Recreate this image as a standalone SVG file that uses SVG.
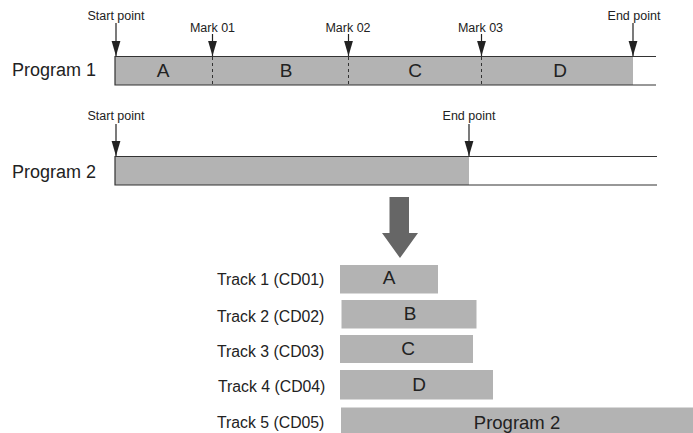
<svg xmlns="http://www.w3.org/2000/svg" width="693" height="433" viewBox="0 0 693 433">
<style>
text{font-family:"Liberation Sans",Arial,sans-serif;fill:#222}
.s{font-size:12.5px;text-anchor:middle}
.lbl{font-size:18px}
.seg{font-size:19px;text-anchor:middle}
.trk{font-size:15.8px}
.bar{fill:#b3b3b3}
.edge{stroke:#333;stroke-width:1.2;fill:none}
.dash{stroke:#333;stroke-width:1;stroke-dasharray:3,3}
.ptr{stroke:#222;stroke-width:1.2;fill:none;marker-end:url(#ah)}
</style>
<defs>
<marker id="ah" markerUnits="userSpaceOnUse" markerWidth="16" markerHeight="10" refX="15" refY="5" orient="auto" viewBox="0 0 16 10">
<path d="M0,0.6 L15,5 L0,9.4 Z" fill="#222"/>
</marker>
</defs>
<g id="program1">
<text class="lbl" x="12" y="76">Program 1</text>
<rect class="bar" x="115" y="56.5" width="518" height="28.5"/>
<path class="edge" d="M656,56.5 H115 V85 H656"/>
<text class="seg" x="163" y="77">A</text>
<text class="seg" x="286" y="77">B</text>
<text class="seg" x="415" y="77">C</text>
<text class="seg" x="560" y="77">D</text>
<line class="dash" x1="212.5" y1="57" x2="212.5" y2="85"/>
<line class="dash" x1="348.5" y1="57" x2="348.5" y2="85"/>
<line class="dash" x1="481.5" y1="57" x2="481.5" y2="85"/>
</g>
<g id="program2">
<text class="lbl" x="12" y="178">Program 2</text>
<rect class="bar" x="115" y="156.5" width="354" height="28.5"/>
<path class="edge" d="M657,156.5 H115 V185 H657"/>
</g>
<g id="markers">
<text class="s" x="116" y="20">Start point</text>
<text class="s" x="212.5" y="32">Mark 01</text>
<text class="s" x="348" y="32">Mark 02</text>
<text class="s" x="480.5" y="32">Mark 03</text>
<text class="s" x="634" y="20">End point</text>
<text class="s" x="116" y="120">Start point</text>
<text class="s" x="469" y="120">End point</text>
</g>
<g id="connectors">
<line class="ptr" x1="116" y1="23" x2="116" y2="56"/>
<line class="ptr" x1="212.5" y1="34" x2="212.5" y2="56"/>
<line class="ptr" x1="348.5" y1="34" x2="348.5" y2="56"/>
<line class="ptr" x1="481.5" y1="34" x2="481.5" y2="56"/>
<line class="ptr" x1="633" y1="23" x2="633" y2="56"/>
<line class="ptr" x1="116" y1="124" x2="116" y2="156"/>
<line class="ptr" x1="469" y1="124" x2="469" y2="156"/>
<path d="M389.5,197 H409 V233 H418 L400,258 L382,233 H389.5 Z" fill="#666"/>
</g>
<g id="track1">
<text class="trk" x="217" y="285">Track 1 (CD01)</text>
<rect class="bar" x="340" y="265" width="98" height="28.5"/>
<text class="seg" x="389" y="284">A</text>
</g>
<g id="track2">
<text class="trk" x="217" y="321.5">Track 2 (CD02)</text>
<rect class="bar" x="341.5" y="300" width="135" height="28.5"/>
<text class="seg" x="410" y="320">B</text>
</g>
<g id="track3">
<text class="trk" x="217" y="356.5">Track 3 (CD03)</text>
<rect class="bar" x="340" y="335" width="133" height="28"/>
<text class="seg" x="408" y="355">C</text>
</g>
<g id="track4">
<text class="trk" x="218" y="391.5">Track 4 (CD04)</text>
<rect class="bar" x="340" y="370" width="153" height="29.5"/>
<text class="seg" x="419" y="391">D</text>
</g>
<g id="track5">
<text class="trk" x="217" y="428">Track 5 (CD05)</text>
<rect class="bar" x="341" y="407.5" width="352" height="26"/>
<text class="lbl" x="517" y="429" text-anchor="middle" style="font-size:18.5px">Program 2</text>
</g>
</svg>
